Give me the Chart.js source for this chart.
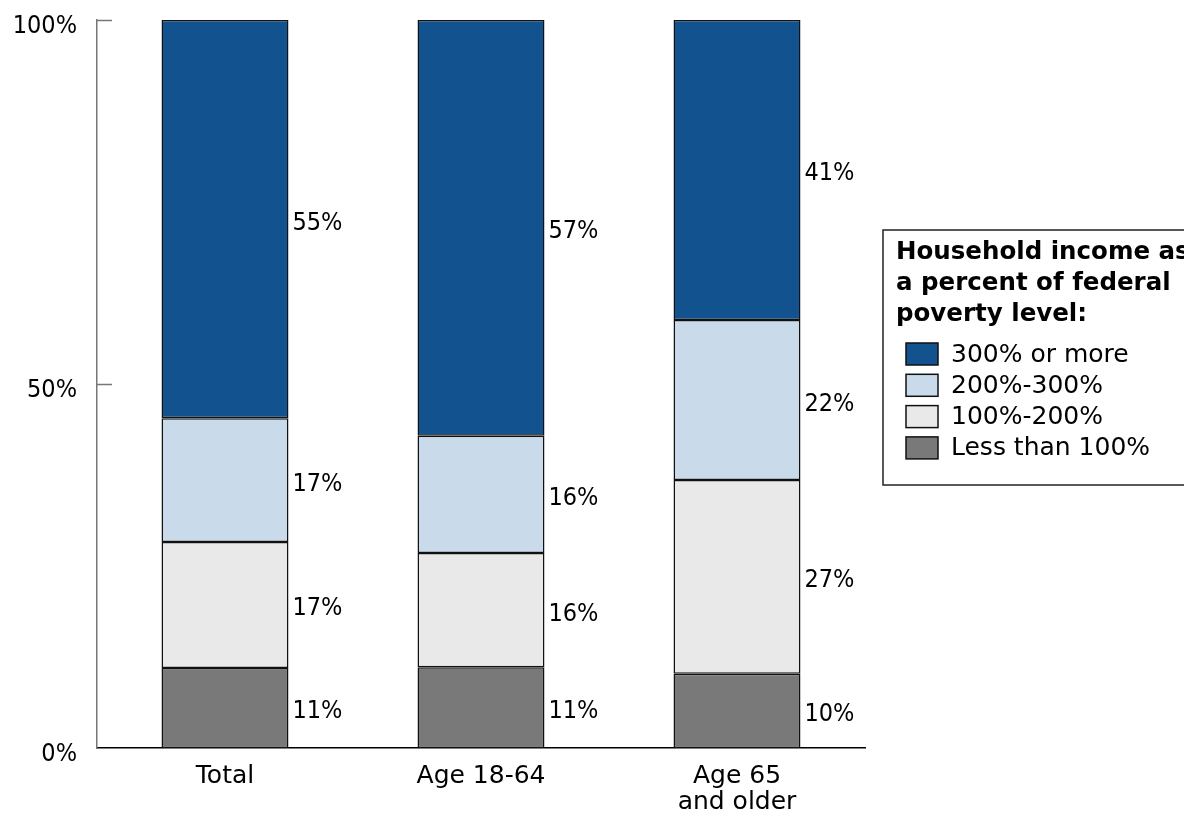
<!DOCTYPE html>
<html>
<head>
<meta charset="utf-8">
<style>
  html, body { margin: 0; padding: 0; background: #fff; }
  #wrap { width: 1184px; height: 814px; position: relative; }
</style>
<script src="https://cdn.jsdelivr.net/npm/chart.js@4/dist/chart.umd.min.js"></script>
</head>
<body>
<div id="wrap"><canvas id="chart" width="1184" height="814"></canvas></div>
<script>
// categories and series (bottom of the stack first)
const categories = ['Total', 'Age 18-64', ['Age 65', 'and older']];
const seriesNames = ['Less than 100%', '100%-200%', '200%-300%', '300% or more'];
const lessThan100 = [11.0, 11.1, 10.2];
const from100to200 = [17.3, 15.7, 26.6];
const from200to300 = [17.0, 16.1, 22.0];
const over300 = [54.7, 57.1, 41.2];
const yTicks = [0, 50, 100];
const legendTitle = ['Household income as', 'a percent of federal', 'poverty level:'];

const colors = ['#797979', '#e9e9e9', '#c9dbea', '#11528f'];
const FONT = '"DejaVu Sans", Verdana, sans-serif';
const NUMFONT = '"DejaVu Sans Condensed", "DejaVu Sans", sans-serif';

// value labels to the right of each segment
const segLabels = {
  id: 'segLabels',
  afterDatasetsDraw(chart) {
    const ctx = chart.ctx;
    ctx.save();
    ctx.font = '25px ' + NUMFONT;
    ctx.fillStyle = '#000';
    ctx.textAlign = 'left';
    ctx.textBaseline = 'middle';
    chart.data.datasets.forEach((ds, i) => {
      chart.getDatasetMeta(i).data.forEach((bar, j) => {
        const yc = (bar.y + bar.base) / 2 + 4;
        ctx.fillText(Math.round(ds.data[j]) + '%', bar.x + bar.width / 2 + 4, yc);
      });
    });
    ctx.restore();
  }
};

// inward tick marks on the y axis
const yTickMarks = {
  id: 'yTickMarks',
  afterDraw(chart) {
    const ctx = chart.ctx, y = chart.scales.y, left = chart.chartArea.left;
    ctx.save();
    ctx.strokeStyle = '#777';
    ctx.lineWidth = 1.5;
    yTicks.filter(v => v > 0).forEach(v => {
      const py = Math.round(y.getPixelForValue(v)) + 0.5;
      ctx.beginPath();
      ctx.moveTo(left, py);
      ctx.lineTo(left + 15, py);
      ctx.stroke();
    });
    ctx.restore();
  }
};

// boxed legend on the right
const boxLegend = {
  id: 'boxLegend',
  afterDraw(chart) {
    const ctx = chart.ctx;
    const bx = 883, by = 230, bw = 320, bh = 255;
    ctx.save();
    ctx.strokeStyle = '#222';
    ctx.lineWidth = 1.5;
    ctx.strokeRect(bx, by, bw, bh);
    ctx.fillStyle = '#000';
    ctx.textAlign = 'left';
    ctx.textBaseline = 'middle';
    ctx.font = 'bold 24.5px ' + FONT;
    legendTitle.forEach((t, i) => ctx.fillText(t, 896, 253 + i * 31));
    ctx.font = '25px ' + FONT;
    const ds = chart.data.datasets.slice().reverse();
    ds.forEach((d, i) => {
      const cy = 354 + i * 31.3;
      ctx.fillStyle = d.backgroundColor;
      ctx.fillRect(906, cy - 11, 32, 22);
      ctx.strokeStyle = '#111';
      ctx.lineWidth = 1.5;
      ctx.strokeRect(906, cy - 11, 32, 22);
      ctx.fillStyle = '#000';
      ctx.fillText(d.label, 951, cy + 1);
    });
    ctx.restore();
  }
};

const seriesData = [lessThan100, from100to200, from200to300, over300];

new Chart(document.getElementById('chart'), {
  type: 'bar',
  data: {
    labels: categories,
    datasets: seriesNames.map((name, i) => ({
      label: name,
      data: seriesData[i],
      backgroundColor: colors[i],
      borderColor: '#111',
      borderWidth: 1.5,
      borderSkipped: false,
      barPercentage: 0.496,
      categoryPercentage: 1
    }))
  },
  options: {
    responsive: false,
    animation: false,
    devicePixelRatio: 1,
    layout: { padding: { top: 20, right: 319, left: 0, bottom: 0 } },
    plugins: { legend: { display: false }, tooltip: { enabled: false } },
    scales: {
      x: {
        stacked: true,
        grid: { display: false, drawTicks: false },
        border: { color: '#000', width: 1.5 },
        ticks: { color: '#000', font: { family: FONT, size: 25, lineHeight: 1.05 }, padding: 15, maxRotation: 0 },
        afterFit(s) { s.height = 66; s.paddingLeft = 0; s.paddingRight = 0; }
      },
      y: {
        stacked: true,
        min: 0, max: 100,
        grid: { display: false, drawTicks: false },
        border: { color: '#777', width: 1.5 },
        afterBuildTicks(s) { s.ticks = yTicks.map(v => ({ value: v })); },
        ticks: {
          color: '#000',
          font: { family: NUMFONT, size: 25 },
          padding: 20,
          labelOffset: 6,
          callback: v => v + '%'
        },
        afterFit(s) { s.width = 97; s.paddingTop = 0; s.paddingBottom = 0; }
      }
    }
  },
  plugins: [segLabels, yTickMarks, boxLegend]
});
</script>
</body>
</html>
